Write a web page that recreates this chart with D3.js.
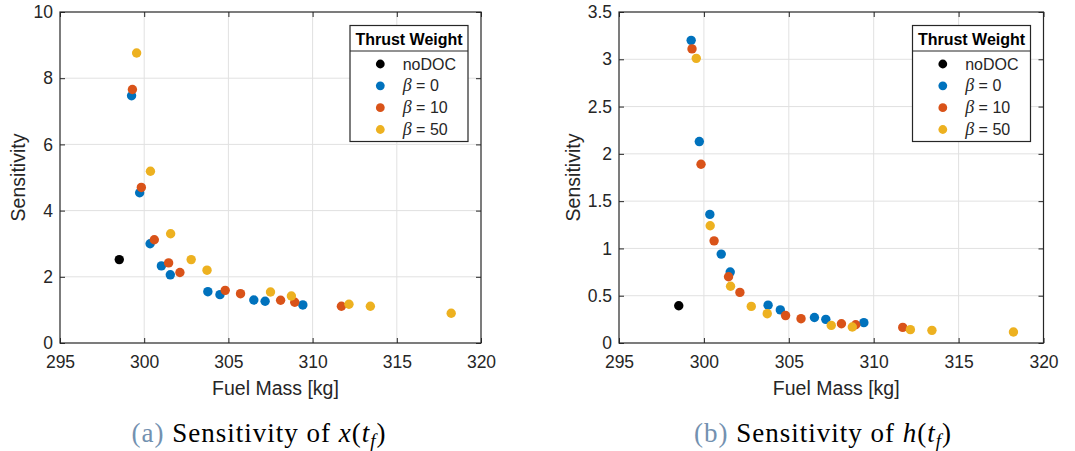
<!DOCTYPE html>
<html>
<head>
<meta charset="utf-8">
<script src="https://cdn.jsdelivr.net/npm/d3@7"></script>
<style>
    body { margin: 0; background: #fff; }
    svg { display: block; font-family: "Liberation Sans", Arial, sans-serif; }
</style>
</head>
<body>
<svg id="chart" width="1075" height="451"></svg>
<script>
// Fuel mass [kg] for every run, one array per thrust weight
const fuelMassNoDoc  = [298.52];
const fuelMassBeta0  = [299.25, 299.73, 300.35, 301.02, 301.55, 303.78, 304.50, 306.51, 307.18, 309.42];
const fuelMassBeta10 = [299.30, 299.83, 300.60, 301.45, 302.12, 304.81, 305.72, 308.10, 308.94, 311.71];
const fuelMassBeta50 = [299.55, 300.37, 301.57, 302.79, 303.73, 307.50, 308.74, 312.16, 313.43, 318.23];

// Sensitivity of x(t_f)
const sensXNoDoc  = [2.52];
const sensXBeta0  = [7.47, 4.54, 3.00, 2.33, 2.06, 1.55, 1.46, 1.30, 1.26, 1.15];
const sensXBeta10 = [7.66, 4.70, 3.12, 2.42, 2.13, 1.59, 1.49, 1.29, 1.23, 1.11];
const sensXBeta50 = [8.76, 5.19, 3.30, 2.52, 2.20, 1.54, 1.42, 1.17, 1.11, 0.90];

// Sensitivity of h(t_f)
const sensHNoDoc  = [0.394];
const sensHBeta0  = [3.20, 2.13, 1.36, 0.94, 0.75, 0.40, 0.35, 0.27, 0.25, 0.215];
const sensHBeta10 = [3.11, 1.89, 1.08, 0.70, 0.535, 0.29, 0.257, 0.204, 0.193, 0.165];
const sensHBeta50 = [3.01, 1.24, 0.60, 0.387, 0.31, 0.186, 0.169, 0.141, 0.134, 0.116];

const seriesKeys = ['noDOC', '0', '10', '50'];
const legendTitle = 'Thrust Weight';
const xTicks = [295, 300, 305, 310, 315, 320];
const yTicksX = [0, 2, 4, 6, 8, 10];
const yTicksH = [0, 0.5, 1, 1.5, 2, 2.5, 3, 3.5];

const colours = d3.scaleOrdinal()
    .domain(seriesKeys)
    .range(['#000000', '#0072bd', '#d95319', '#edb120']);

function zipSeries(masses, sens) {
    return seriesKeys.map((key, i) => ({
        key: key,
        points: masses[i].map((m, j) => ({mass: m, sens: sens[i][j]}))
    }));
}

class SensitivityScatter {
    constructor(_config, _series) {
        this.config = {
            parentElement: _config.parentElement,
            left: _config.left,
            top: _config.top || 12,
            width: _config.width,
            height: _config.height || 331,
            yDomain: _config.yDomain,
            yTicks: _config.yTicks,
            yLabelOffset: _config.yLabelOffset || 42,
            captionTag: _config.captionTag,
            captionVar: _config.captionVar,
            captionX: _config.captionX
        };
        this.series = _series;
        this.initVis();
    }

    initVis() {
        let vis = this;
        const c = vis.config;

        vis.svg = d3.select(c.parentElement);
        vis.chart = vis.svg.append('g')
            .attr('transform', `translate(${c.left},${c.top})`);

        vis.x = d3.scaleLinear().domain([295, 320]).range([0, c.width]);
        vis.y = d3.scaleLinear().domain(c.yDomain).range([c.height, 0]);

        // grid
        vis.chart.append('g').selectAll('line.vgrid')
            .data(xTicks.slice(1, -1))
            .join('line')
            .attr('x1', d => vis.x(d)).attr('x2', d => vis.x(d))
            .attr('y1', 0).attr('y2', c.height)
            .attr('stroke', '#e1e1e1').attr('stroke-width', 1);
        vis.chart.append('g').selectAll('line.hgrid')
            .data(c.yTicks.slice(1, -1))
            .join('line')
            .attr('y1', d => vis.y(d)).attr('y2', d => vis.y(d))
            .attr('x1', 0).attr('x2', c.width)
            .attr('stroke', '#e1e1e1').attr('stroke-width', 1);

        // axes, ticks pointing inwards
        const styleAxis = g => {
            g.select('.domain').remove();
            g.selectAll('line').attr('stroke', '#262626').attr('stroke-width', 1);
            g.selectAll('text').attr('fill', '#262626').attr('font-size', 17.5)
                .attr('font-family', '"Liberation Sans", Arial, sans-serif');
        };
        vis.chart.append('g')
            .attr('transform', `translate(0,${c.height})`)
            .call(d3.axisBottom(vis.x).tickValues(xTicks).tickSizeInner(-5).tickSizeOuter(0).tickPadding(13))
            .call(styleAxis);
        vis.chart.append('g')
            .call(d3.axisTop(vis.x).tickValues(xTicks).tickSizeInner(-5).tickSizeOuter(0).tickFormat(''))
            .call(styleAxis);
        vis.chart.append('g')
            .call(d3.axisLeft(vis.y).tickValues(c.yTicks).tickSizeInner(-5).tickSizeOuter(0).tickPadding(7)
                .tickFormat(d3.format('~g')))
            .call(styleAxis);
        vis.chart.append('g')
            .attr('transform', `translate(${c.width},0)`)
            .call(d3.axisRight(vis.y).tickValues(c.yTicks).tickSizeInner(-5).tickSizeOuter(0).tickFormat(''))
            .call(styleAxis);

        vis.chart.append('rect')
            .attr('width', c.width).attr('height', c.height)
            .attr('fill', 'none').attr('stroke', '#262626').attr('stroke-width', 1.2);

        // axis labels
        vis.chart.append('text')
            .attr('x', c.width / 2 + 5).attr('y', c.height + 52)
            .attr('text-anchor', 'middle').attr('font-size', 19.5).attr('fill', '#262626')
            .text('Fuel Mass [kg]');
        vis.chart.append('text')
            .attr('transform', `translate(${-c.yLabelOffset + 7},${c.height / 2}) rotate(-90)`)
            .attr('text-anchor', 'middle').attr('font-size', 19.5).attr('fill', '#262626')
            .text('Sensitivity');

        vis.renderVis();
        vis.renderLegend();
        vis.renderCaption();
    }

    renderVis() {
        let vis = this;
        vis.chart.append('g').selectAll('g.series')
            .data(vis.series)
            .join('g')
            .attr('fill', d => colours(d.key))
            .selectAll('circle')
            .data(d => d.points)
            .join('circle')
            .attr('cx', d => vis.x(d.mass))
            .attr('cy', d => vis.y(d.sens))
            .attr('r', 4.7);
    }

    renderLegend() {
        let vis = this;
        const lw = 118, lh = 116;
        const legend = vis.chart.append('g')
            .attr('transform', `translate(${vis.config.width - 13 - lw},13.5)`);
        legend.append('rect')
            .attr('width', lw).attr('height', lh)
            .attr('fill', '#fff').attr('stroke', '#262626').attr('stroke-width', 1.2);
        legend.append('line')
            .attr('x1', 0).attr('x2', lw).attr('y1', 25.5).attr('y2', 25.5)
            .attr('stroke', '#262626').attr('stroke-width', 1.2);
        legend.append('text')
            .attr('x', lw / 2).attr('y', 19.5)
            .attr('text-anchor', 'middle').attr('font-size', 16).attr('font-weight', 'bold')
            .attr('fill', '#000')
            .text(legendTitle);

        const rowY = d3.scalePoint().domain(seriesKeys).range([38.5, 104]);
        const rows = legend.selectAll('g.row')
            .data(seriesKeys)
            .join('g')
            .attr('transform', d => `translate(0,${rowY(d)})`);
        rows.append('circle')
            .attr('cx', 30.3).attr('r', 4.4)
            .attr('fill', d => colours(d));
        const label = rows.append('text')
            .attr('x', 52.7).attr('dy', '0.35em')
            .attr('font-size', 16).attr('fill', '#262626');
        label.filter(d => d === 'noDOC').text(d => d);
        label.filter(d => d !== 'noDOC').each(function(d) {
            const t = d3.select(this);
            t.append('tspan')
                .attr('font-family', '"Liberation Serif", serif').attr('font-style', 'italic')
                .attr('font-size', 18)
                .text('\u03b2');
            t.append('tspan').text(` = ${d}`);
        });
    }

    renderCaption() {
        let vis = this;
        const c = vis.config;
        const cap = vis.svg.append('text')
            .attr('x', c.captionX).attr('y', 442)
            .attr('text-anchor', 'middle')
            .attr('font-family', '"Liberation Serif", "Times New Roman", serif')
            .attr('font-size', 27).attr('letter-spacing', 1)
            .attr('fill', '#000');
        cap.append('tspan').attr('fill', '#7391b0').text(`(${c.captionTag})`);
        cap.append('tspan').text(' Sensitivity of ');
        cap.append('tspan').attr('font-style', 'italic').text(c.captionVar);
        cap.append('tspan').text('(');
        cap.append('tspan').attr('font-style', 'italic').text('t');
        cap.append('tspan').attr('font-style', 'italic').attr('font-size', 19).attr('dy', 5).text('f');
        cap.append('tspan').attr('dy', -5).text(')');
    }
}

const fuelMasses = [fuelMassNoDoc, fuelMassBeta0, fuelMassBeta10, fuelMassBeta50];

new SensitivityScatter({
    parentElement: '#chart', left: 60, width: 421,
    yDomain: [0, 10], yTicks: yTicksX, yLabelOffset: 42,
    captionTag: 'a', captionVar: 'x', captionX: 259
}, zipSeries(fuelMasses, [sensXNoDoc, sensXBeta0, sensXBeta10, sensXBeta50]));

new SensitivityScatter({
    parentElement: '#chart', left: 619, width: 424.5,
    yDomain: [0, 3.5], yTicks: yTicksH, yLabelOffset: 46,
    captionTag: 'b', captionVar: 'h', captionX: 823
}, zipSeries(fuelMasses, [sensHNoDoc, sensHBeta0, sensHBeta10, sensHBeta50]));
</script>
</body>
</html>
